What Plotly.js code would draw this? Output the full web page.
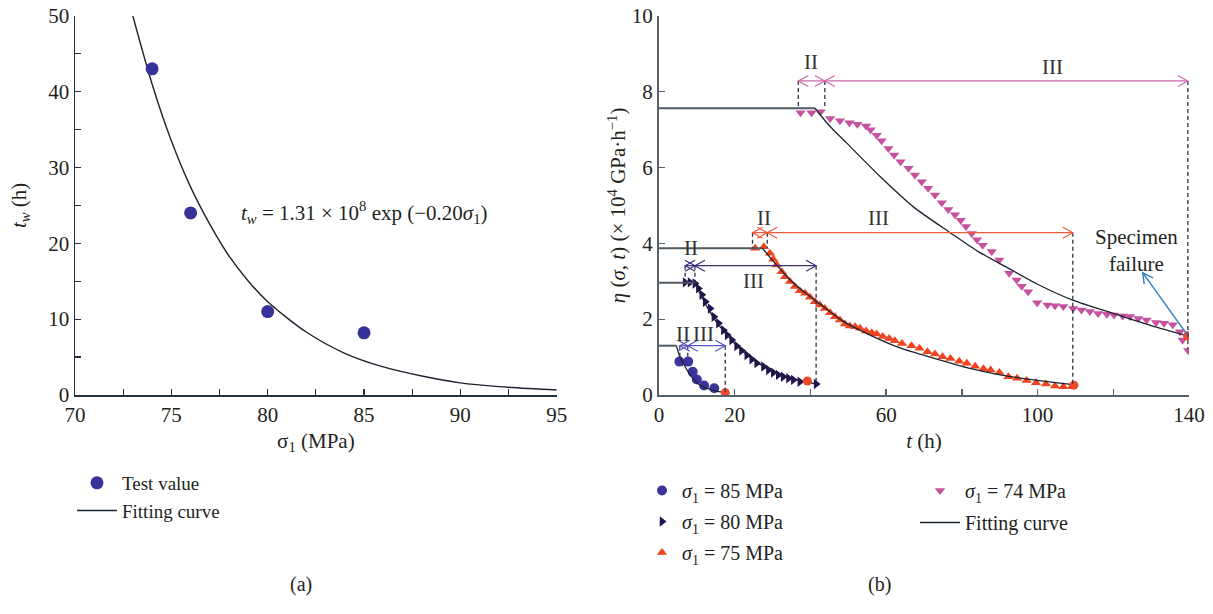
<!DOCTYPE html>
<html>
<head>
<meta charset="utf-8">
<script src="https://cdn.plot.ly/plotly-3.0.1.min.js"></script>
<style>html,body{margin:0;padding:0;background:#fff}#chart{width:1213px;height:614px}</style>
</head>
<body>
<div id="chart"></div>
<script>
// ---------- Panel (a) data ----------
const sigmaTest = [74, 76, 80, 85];
const twTest = [43.0, 24.0, 11.0, 8.2];
const sigmaFit = [73, 74, 75, 76, 77, 78, 79, 80, 82, 84, 86, 88, 90, 92, 95];
const twFit = [50, 41, 33.5, 27.4, 22.5, 18.3, 15.0, 12.3, 8.3, 5.5, 3.7, 2.5, 1.6, 1.1, 0.65];

// ---------- Panel (b) data ----------
const t85 = [5.4, 7.7, 8.9, 10.0, 11.9, 14.6];
const eta85 = [0.88, 0.88, 0.61, 0.41, 0.25, 0.18];

const t80 = [6.9, 8.2, 9.5, 10.4, 11.3, 12.2, 13.5, 14.5, 15.7, 17.0, 18.0, 19.2, 20.5, 21.8, 23.2, 24.5, 25.8, 27.6, 28.9, 30.2, 31.5, 32.8, 34.2, 35.5, 37.2, 41.5];
const eta80 = [2.97, 2.97, 2.94, 2.81, 2.64, 2.46, 2.28, 2.06, 1.89, 1.71, 1.58, 1.45, 1.29, 1.17, 1.05, 0.94, 0.84, 0.75, 0.66, 0.59, 0.53, 0.48, 0.44, 0.40, 0.35, 0.29];

const t75 = [25.4, 27.7, 29.3, 30.2, 31.1, 32.4, 33.3, 34.6, 35.9, 37.2, 38.6, 39.9, 41.2, 42.5, 43.8, 45.2, 46.5, 47.8, 49.1, 50.4, 51.8, 53.1, 54.7, 56.2, 57.5, 59.1, 60.8, 62.3, 64.2, 66.7, 68.8, 70.9, 72.9, 74.9, 77.0, 79.3, 81.3, 83.5, 85.7, 87.6, 89.9, 92.3, 94.6, 97.1, 99.6, 102.2, 104.6, 106.8, 109.0];
const eta75 = [3.87, 3.91, 3.74, 3.58, 3.43, 3.25, 3.12, 2.99, 2.86, 2.75, 2.68, 2.58, 2.46, 2.37, 2.28, 2.17, 2.06, 1.98, 1.87, 1.82, 1.80, 1.76, 1.69, 1.64, 1.61, 1.54, 1.49, 1.43, 1.36, 1.30, 1.23, 1.14, 1.08, 1.01, 0.96, 0.89, 0.84, 0.76, 0.69, 0.66, 0.59, 0.48, 0.44, 0.38, 0.32, 0.29, 0.24, 0.22, 0.22];

const t74 = [37.4, 40.3, 42.7, 45.2, 47.8, 50.3, 52.4, 54.7, 55.9, 57.5, 58.8, 60.6, 62.1, 63.8, 65.9, 67.6, 69.4, 71.1, 72.9, 74.7, 76.4, 78.2, 79.7, 81.1, 82.6, 84.0, 85.5, 87.9, 89.9, 92.5, 94.5, 95.8, 97.5, 99.9, 102.6, 104.6, 106.8, 109.4, 111.6, 113.8, 116.0, 118.3, 120.2, 122.5, 124.4, 126.6, 128.8, 131.3, 133.4, 135.7, 137.6, 138.3, 139.8];
const eta74 = [7.44, 7.44, 7.47, 7.29, 7.23, 7.18, 7.14, 7.09, 6.99, 6.85, 6.70, 6.50, 6.33, 6.15, 5.98, 5.80, 5.62, 5.45, 5.27, 5.07, 4.89, 4.75, 4.61, 4.44, 4.26, 4.09, 3.95, 3.78, 3.56, 3.21, 3.03, 2.87, 2.72, 2.43, 2.37, 2.35, 2.33, 2.28, 2.24, 2.20, 2.15, 2.13, 2.11, 2.08, 2.07, 2.02, 1.98, 1.91, 1.89, 1.85, 1.67, 1.45, 1.17];

// failure points
const tFail = [17.5, 39.2, 109.6, 139.6];
const etaFail = [0.06, 0.37, 0.26, 1.56];

// fitting curves (stage I level and decay part)
const stageILevel = [1.30, 2.96, 3.87, 7.56];
const stageIEnd = [4.6, 9.5, 27.3, 41.2];
const fit85T = [4.6, 5.5, 6.9, 8.2, 9.5, 10.8, 12.6, 14.8, 17.4];
const fit85E = [1.30, 1.01, 0.75, 0.53, 0.38, 0.26, 0.18, 0.11, 0.07];
const fit80T = [9.5, 12, 15, 18, 21, 25, 30, 35, 41.5];
const fit80E = [2.96, 2.45, 1.95, 1.58, 1.25, 0.92, 0.62, 0.43, 0.29];
const fit75T = [27.3, 30, 34.6, 38, 42.1, 48.7, 54.9, 63.7, 72.5, 81.3, 90.1, 98.9, 109.6];
const fit75E = [3.87, 3.55, 3.04, 2.74, 2.43, 1.94, 1.62, 1.24, 0.97, 0.72, 0.53, 0.40, 0.27];
const fit74T = [41.2, 45, 49.6, 58.4, 67.2, 76.9, 84, 91.8, 100, 109.3, 120, 130, 139.6];
const fit74E = [7.56, 7.10, 6.64, 5.76, 4.96, 4.28, 3.80, 3.37, 2.92, 2.50, 2.15, 1.83, 1.56];

// stage boundaries (t) and arrow levels
const stageBounds = [[5.5, 7.6, 17.5], [6.9, 9.5, 41.5], [24.7, 28.6, 109.3], [36.8, 43.8, 139.7]];
const arrowLevel = [1.30, 3.41, 4.28, 8.28];
const dashBottom = [[0.95, 0.95, 0.06], [2.96, 2.96, 0.29], [3.87, 3.87, 0.26], [7.56, 7.56, 1.2]];
const labelII = [[6.25, 1.60], [8.4, 3.87], [27.7, 4.66], [40.1, 8.77]];
const labelIII = [[11.7, 1.60], [24.9, 3.0], [57.9, 4.66], [104, 8.66]];
const failureText = [126.2, 3.82];
const failureArrow = [[139.6, 1.58], [127.8, 3.22]];

const seriesNames = ['<i>σ</i><sub>1</sub> = 85 MPa', '<i>σ</i><sub>1</sub> = 80 MPa', '<i>σ</i><sub>1</sub> = 75 MPa', '<i>σ</i><sub>1</sub> = 74 MPa'];

// ---------- styles ----------
const W = 1213, H = 614;
const FONT = 'Liberation Serif, Times New Roman, serif';
const TXT = '#231f20';
const colA = '#37319a';
const col85 = '#3b349c', col80 = '#24114f', col75 = '#f0431f', col74 = '#c4529e';
const arrowCols = ['#5a56c4', '#3e2c7c', '#f25a3a', '#cc66ad'];
const fitCol = '#1b2430', levelCol = '#4f5a63';
const failCol = '#f0482a';

const xDomB = [659 / W, 1189 / W], yDom = [219 / H, 598.3 / H];
const xRangeB = [0, 140], yRangeB = [0, 10];
const pxPerX = (xDomB[1] - xDomB[0]) * W / (xRangeB[1] - xRangeB[0]);
const pxPerY = (yDom[1] - yDom[0]) * H / (yRangeB[1] - yRangeB[0]);

const traces = [];
// Panel a
traces.push({x: sigmaFit, y: twFit, mode: 'lines', line: {color: fitCol, width: 1.4, shape: 'spline', smoothing: 0.8},
  name: 'Fitting curve', legend: 'legend', xaxis: 'x', yaxis: 'y'});
traces.push({x: sigmaTest, y: twTest, mode: 'markers', marker: {color: colA, size: 13, symbol: 'circle'},
  name: 'Test value', legend: 'legend', xaxis: 'x', yaxis: 'y'});

// Panel b: markers first (legend order), then fits
traces.push({x: t85, y: eta85, mode: 'markers', marker: {color: col85, size: 10, symbol: 'circle'},
  name: seriesNames[0], legend: 'legend2', legendgroup: 'g85', xaxis: 'x2', yaxis: 'y2'});
traces.push({x: t80, y: eta80, mode: 'markers', marker: {color: col80, size: 9, symbol: 'triangle-right'},
  name: seriesNames[1], legend: 'legend2', legendgroup: 'g80', xaxis: 'x2', yaxis: 'y2'});
traces.push({x: t75, y: eta75, mode: 'markers', marker: {color: col75, size: 9, symbol: 'triangle-up'},
  name: seriesNames[2], legend: 'legend2', legendgroup: 'g75', xaxis: 'x2', yaxis: 'y2'});
traces.push({x: t74, y: eta74, mode: 'markers', marker: {color: col74, size: 9, symbol: 'triangle-down'},
  name: seriesNames[3], legend: 'legend3', legendgroup: 'g74', xaxis: 'x2', yaxis: 'y2'});
for (let i = 0; i < 4; i++) {
  traces.push({x: [0, stageIEnd[i]], y: [stageILevel[i], stageILevel[i]], mode: 'lines',
    line: {color: levelCol, width: 2}, showlegend: false, xaxis: 'x2', yaxis: 'y2', hoverinfo: 'skip'});
}
const fits = [[fit85T, fit85E], [fit80T, fit80E], [fit75T, fit75E], [fit74T, fit74E]];
fits.forEach((f, i) => {
  traces.push({x: f[0], y: f[1], mode: 'lines', line: {color: fitCol, width: 1.3, shape: 'spline', smoothing: 0.7},
    name: 'Fitting curve', legend: 'legend3', legendgroup: 'zfit', showlegend: i === 3, xaxis: 'x2', yaxis: 'y2'});
});
traces.push({x: tFail, y: etaFail, mode: 'markers', marker: {color: failCol, size: 9, symbol: 'circle'},
  showlegend: false, xaxis: 'x2', yaxis: 'y2', name: 'failure'});

// ---------- arrows and dashed lines (shapes) ----------
const shapes = [];
const annotations = [];
function chevron(tip, from, color, width) {
  const dxp = (tip[0] - from[0]) * pxPerX, dyp = (tip[1] - from[1]) * pxPerY;
  const len = Math.hypot(dxp, dyp) || 1;
  const ux = dxp / len, uy = dyp / len;
  const L = 10, Wd = 5.5;
  const p1 = [tip[0] + (-L * ux - Wd * uy) / pxPerX, tip[1] + (-L * uy + Wd * ux) / pxPerY];
  const p2 = [tip[0] + (-L * ux + Wd * uy) / pxPerX, tip[1] + (-L * uy - Wd * ux) / pxPerY];
  shapes.push({type: 'path', xref: 'x2', yref: 'y2',
    path: `M ${p1[0]},${p1[1]} L ${tip[0]},${tip[1]} L ${p2[0]},${p2[1]}`,
    line: {color: color, width: width}});
}
for (let i = 0; i < 4; i++) {
  stageBounds[i].forEach((b, j) => {
    shapes.push({type: 'line', xref: 'x2', yref: 'y2', x0: b, x1: b, y0: arrowLevel[i], y1: dashBottom[i][j],
      line: {color: '#2b3640', width: 1.3, dash: '4px,3px'}});
  });
  const segs = [[stageBounds[i][0], stageBounds[i][1]], [stageBounds[i][1], stageBounds[i][2]]];
  segs.forEach(s => {
    const a = [s[0], arrowLevel[i]], b = [s[1], arrowLevel[i]];
    shapes.push({type: 'line', xref: 'x2', yref: 'y2', x0: a[0], x1: b[0], y0: a[1], y1: b[1],
      line: {color: arrowCols[i], width: 1.2}});
    chevron(b, a, arrowCols[i], 1.2);
    chevron(a, b, arrowCols[i], 1.2);
  });
  annotations.push({xref: 'x2', yref: 'y2', x: labelII[i][0], y: labelII[i][1], text: 'II', showarrow: false, font: {size: 21, color: '#333'}});
  annotations.push({xref: 'x2', yref: 'y2', x: labelIII[i][0], y: labelIII[i][1], text: 'III', showarrow: false, font: {size: 21, color: '#333'}});
}
// specimen failure
annotations.push({xref: 'x2', yref: 'y2', x: failureText[0], y: failureText[1], text: 'Specimen<br>failure', showarrow: false, font: {size: 21, color: TXT}});
shapes.push({type: 'line', xref: 'x2', yref: 'y2', x0: failureArrow[0][0], y0: failureArrow[0][1], x1: failureArrow[1][0], y1: failureArrow[1][1],
  line: {color: '#2f7cc6', width: 1.4}});
chevron(failureArrow[1], failureArrow[0], '#2f7cc6', 1.4);
// equation
annotations.push({xref: 'x', yref: 'y', x: 85.05, y: 24.1, showarrow: false, font: {size: 21, color: TXT},
  text: '<i>t<sub>w</sub></i> = 1.31 × 10<sup>8</sup> exp (−0.20<i>σ</i><sub>1</sub>)'});
// panel labels
annotations.push({xref: 'paper', yref: 'paper', x: 288 / W, y: 16 / H, text: '(a)', showarrow: false, font: {size: 20, color: TXT}});
annotations.push({xref: 'paper', yref: 'paper', x: 893 / W, y: 16 / H, text: '(b)', showarrow: false, font: {size: 20, color: TXT}});

const axA = '#243040', axB = '#56616b';
const baseAxis = {showgrid: false, zeroline: false, showline: true, ticks: 'inside', ticklen: 6, tickwidth: 1.2,
  tickfont: {size: 21, color: TXT}, fixedrange: true};

const layout = {
  width: W, height: H,
  margin: {l: 0, r: 0, t: 0, b: 0},
  paper_bgcolor: '#fff', plot_bgcolor: '#fff',
  font: {family: FONT, color: TXT, size: 20},
  showlegend: true,
  xaxis: Object.assign({}, baseAxis, {domain: [75 / W, 556.7 / W], range: [70, 95], anchor: 'y',
    tickvals: [70, 75, 80, 85, 90, 95], linecolor: axA, linewidth: 1.5, tickcolor: axA,
    minor: {dtick: 2.5, tick0: 70, ticks: 'inside', ticklen: 6, tickcolor: axA, tickwidth: 1.2},
    title: {text: 'σ<sub>1</sub> (MPa)', font: {size: 21}, standoff: 7}}),
  yaxis: Object.assign({}, baseAxis, {domain: yDom, range: [0, 50], anchor: 'x',
    tickvals: [0, 10, 20, 30, 40, 50], linecolor: axA, linewidth: 1.5, tickcolor: axA,
    minor: {dtick: 5, tick0: 0, ticks: 'inside', ticklen: 6, tickcolor: axA, tickwidth: 1.2},
    title: {text: '<i>t<sub>w</sub></i> (h)', font: {size: 21}, standoff: 16}}),
  xaxis2: Object.assign({}, baseAxis, {domain: xDomB, range: xRangeB, anchor: 'y2',
    tickvals: [0, 20, 60, 100, 140], linecolor: axB, linewidth: 2, tickcolor: axB,
    minor: {dtick: 20, tick0: 0, ticks: 'inside', ticklen: 6, tickcolor: axB, tickwidth: 1.5},
    title: {text: '<i>t</i> (h)', font: {size: 21}, standoff: 7}}),
  yaxis2: Object.assign({}, baseAxis, {domain: yDom, range: yRangeB, anchor: 'x2',
    tickvals: [0, 2, 4, 6, 8, 10], linecolor: axB, linewidth: 2, tickcolor: axB,
    title: {text: '<i>η</i> (<i>σ</i>, <i>t</i>) (× 10<sup>4</sup> GPa·h<sup>−1</sup>)', font: {size: 21}, standoff: 0}}),
  legend: {x: 72 / W, y: (H - 464) / H, xanchor: 'left', yanchor: 'top', bgcolor: 'rgba(0,0,0,0)',
    font: {size: 19, color: TXT}, itemwidth: 40, traceorder: 'reversed'},
  legend2: {x: 642 / W, y: (H - 471) / H, xanchor: 'left', yanchor: 'top', bgcolor: 'rgba(0,0,0,0)',
    font: {size: 20, color: TXT}, traceorder: 'grouped', tracegroupgap: 2},
  legend3: {x: 915 / W, y: (H - 471) / H, xanchor: 'left', yanchor: 'top', bgcolor: 'rgba(0,0,0,0)',
    font: {size: 20, color: TXT}, itemwidth: 40, traceorder: 'grouped', tracegroupgap: 3},
  shapes: shapes,
  annotations: annotations
};

Plotly.newPlot('chart', traces, layout, {staticPlot: true, displayModeBar: false});
</script>
</body>
</html>
